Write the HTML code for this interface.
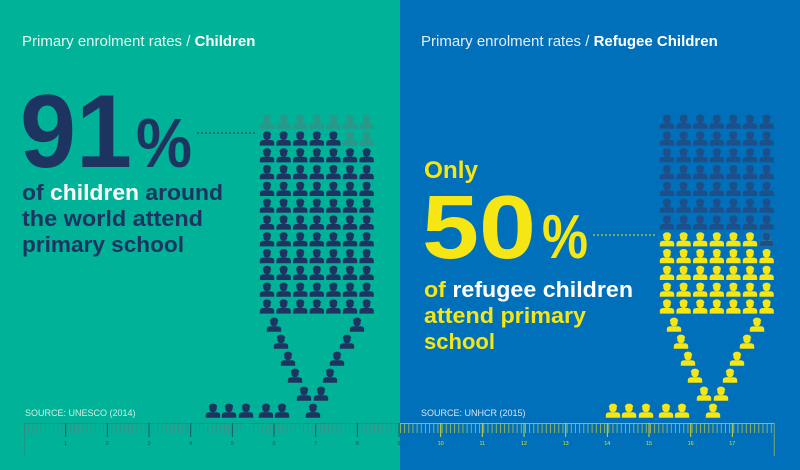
<!DOCTYPE html>
<html><head><meta charset="utf-8"><style>html,body{margin:0;padding:0;}svg{display:block}</style></head>
<body>
<svg width="800" height="470" viewBox="0 0 800 470" xmlns="http://www.w3.org/2000/svg" xmlns:xlink="http://www.w3.org/1999/xlink" font-family="Liberation Sans, sans-serif">
<defs>
<g id="p">
<circle cx="0" cy="4.6" r="3.7"/>
<path d="M-4.2,3.4 Q-4,-0.4 0,-0.4 Q4,-0.4 4.2,3.4 Z"/>
<path d="M-7.2,13.8 L-7.2,11.2 Q-7.2,8.2 -3.6,8.2 L3.6,8.2 Q7.2,8.2 7.2,11.2 L7.2,13.8 Z"/>
</g>
<g id="r">
<use xlink:href="#p" x="0"/><use xlink:href="#p" x="16.6"/><use xlink:href="#p" x="33.2"/><use xlink:href="#p" x="49.8"/><use xlink:href="#p" x="66.4"/><use xlink:href="#p" x="83"/><use xlink:href="#p" x="99.6"/>
</g>
<g id="v">
<use xlink:href="#p" x="274" y="318"/><use xlink:href="#p" x="357" y="318"/>
<use xlink:href="#p" x="281" y="335"/><use xlink:href="#p" x="347" y="335"/>
<use xlink:href="#p" x="288" y="352"/><use xlink:href="#p" x="337" y="352"/>
<use xlink:href="#p" x="295" y="369"/><use xlink:href="#p" x="330" y="369"/>
<use xlink:href="#p" x="304" y="387"/><use xlink:href="#p" x="321" y="387"/>
<use xlink:href="#p" x="213" y="404"/><use xlink:href="#p" x="229" y="404"/><use xlink:href="#p" x="246" y="404"/>
<use xlink:href="#p" x="266" y="404"/><use xlink:href="#p" x="282" y="404"/><use xlink:href="#p" x="313" y="404"/>
</g>
</defs>
<rect x="0" y="0" width="400" height="470" fill="#00b398"/>
<rect x="400" y="0" width="400" height="470" fill="#0070bb"/>

<text x="22" y="46" font-size="15" fill="#e6f7f2">Primary enrolment rates / <tspan font-weight="bold" fill="#ffffff">Children</tspan></text>
<text x="20" y="167" font-size="104" font-weight="bold" fill="#1d3461" textLength="112" lengthAdjust="spacingAndGlyphs">91</text>
<text x="136" y="167" font-size="70" font-weight="bold" fill="#1d3461" textLength="56" lengthAdjust="spacingAndGlyphs">%</text>
<line x1="197" y1="133" x2="256" y2="133" stroke="#1d3461" stroke-width="1" stroke-dasharray="2,2"/>
<g font-size="22" font-weight="bold" fill="#1d3461">
<text x="22" y="200" textLength="201" lengthAdjust="spacingAndGlyphs">of <tspan fill="#ffffff">children</tspan> around</text>
<text x="22" y="226" textLength="181" lengthAdjust="spacingAndGlyphs">the world attend</text>
<text x="22" y="252" textLength="162" lengthAdjust="spacingAndGlyphs">primary school</text>
</g>

<g fill="#1d3461">
<use xlink:href="#r" x="267" y="115" fill="#2a9888"/>
<use xlink:href="#r" x="267" y="131.8" fill="#2a9888"/>
<use xlink:href="#p" x="267" y="131.8"/><use xlink:href="#p" x="283.6" y="131.8"/><use xlink:href="#p" x="300.2" y="131.8"/><use xlink:href="#p" x="316.8" y="131.8"/><use xlink:href="#p" x="333.4" y="131.8"/>
<use xlink:href="#r" x="267" y="148.6"/>
<use xlink:href="#r" x="267" y="165.4"/>
<use xlink:href="#r" x="267" y="182.2"/>
<use xlink:href="#r" x="267" y="199"/>
<use xlink:href="#r" x="267" y="215.8"/>
<use xlink:href="#r" x="267" y="232.6"/>
<use xlink:href="#r" x="267" y="249.4"/>
<use xlink:href="#r" x="267" y="266.2"/>
<use xlink:href="#r" x="267" y="283"/>
<use xlink:href="#r" x="267" y="299.8"/>
<use xlink:href="#v" x="0" y="0"/>
</g>

<text x="421" y="46" font-size="15" fill="#e3eef8">Primary enrolment rates / <tspan font-weight="bold" fill="#ffffff">Refugee Children</tspan></text>
<text x="424" y="178" font-size="24" font-weight="bold" fill="#f5e614" textLength="54" lengthAdjust="spacingAndGlyphs">Only</text>
<text x="422" y="258" font-size="90" font-weight="bold" fill="#f5e614" textLength="114" lengthAdjust="spacingAndGlyphs">50</text>
<text x="542" y="258" font-size="62" font-weight="bold" fill="#f5e614" textLength="46" lengthAdjust="spacingAndGlyphs">%</text>
<line x1="593" y1="235" x2="656" y2="235" stroke="#f5e614" stroke-width="1" stroke-dasharray="2,2"/>
<g font-size="22" font-weight="bold" fill="#f5e614">
<text x="424" y="297" textLength="209" lengthAdjust="spacingAndGlyphs">of <tspan fill="#ffffff">refugee children</tspan></text>
<text x="424" y="323" textLength="162" lengthAdjust="spacingAndGlyphs">attend primary</text>
<text x="424" y="349" textLength="71" lengthAdjust="spacingAndGlyphs">school</text>
</g>

<g fill="#1d4f8a">
<use xlink:href="#r" x="667" y="115"/>
<use xlink:href="#r" x="667" y="131.8"/>
<use xlink:href="#r" x="667" y="148.6"/>
<use xlink:href="#r" x="667" y="165.4"/>
<use xlink:href="#r" x="667" y="182.2"/>
<use xlink:href="#r" x="667" y="199"/>
<use xlink:href="#r" x="667" y="215.8"/>
</g>
<g fill="#f5e614">
<use xlink:href="#r" x="667" y="232.6"/>
<use xlink:href="#p" x="766.6" y="232.6" fill="#1d4f8a"/>
<use xlink:href="#r" x="667" y="249.4"/>
<use xlink:href="#r" x="667" y="266.2"/>
<use xlink:href="#r" x="667" y="283"/>
<use xlink:href="#r" x="667" y="299.8"/>
<use xlink:href="#v" x="400" y="0"/>
</g>

<text x="25" y="416" font-size="9" fill="#cdeee6">SOURCE: UNESCO (2014)</text>
<text x="421" y="416" font-size="9" fill="#d6e6f4">SOURCE: UNHCR (2015)</text>

<line x1="24" y1="428" x2="400" y2="428" stroke="#3a8f86" stroke-width="10" stroke-dasharray="0.9 3.2667"/>
<line x1="399.5" y1="428" x2="774.5" y2="428" stroke="#9cb85a" stroke-width="10" stroke-dasharray="0.9 3.2667" stroke-dashoffset="-0.5"/>
<line x1="24" y1="423.5" x2="400" y2="423.5" stroke="#2a8a7f" stroke-width="1"/>
<line x1="400" y1="423.5" x2="774.5" y2="423.5" stroke="#9cb85a" stroke-width="1"/>
<line x1="24.3" y1="423" x2="24.3" y2="456" stroke="#2a8a7f" stroke-width="0.8"/>
<line x1="774.2" y1="423" x2="774.2" y2="456" stroke="#9cb85a" stroke-width="0.8"/>
<g stroke="#1d4f6a" stroke-width="0.9">
<line x1="65.7" y1="423" x2="65.7" y2="437"/><line x1="107.3" y1="423" x2="107.3" y2="437"/><line x1="149" y1="423" x2="149" y2="437"/><line x1="190.7" y1="423" x2="190.7" y2="437"/><line x1="232.3" y1="423" x2="232.3" y2="437"/><line x1="274" y1="423" x2="274" y2="437"/><line x1="315.7" y1="423" x2="315.7" y2="437"/><line x1="357.3" y1="423" x2="357.3" y2="437"/><line x1="399" y1="423" x2="399" y2="437"/>
</g>
<g stroke="#e0e030" stroke-width="0.9">
<line x1="440.7" y1="423" x2="440.7" y2="437"/><line x1="482.3" y1="423" x2="482.3" y2="437"/><line x1="524" y1="423" x2="524" y2="437"/><line x1="565.7" y1="423" x2="565.7" y2="437"/><line x1="607.3" y1="423" x2="607.3" y2="437"/><line x1="649" y1="423" x2="649" y2="437"/><line x1="690.7" y1="423" x2="690.7" y2="437"/><line x1="732.3" y1="423" x2="732.3" y2="437"/>
</g>
<g font-size="5.5" text-anchor="middle" fill="#1d4f6a">
<text x="65.7" y="445">1</text><text x="107.3" y="445">2</text><text x="149" y="445">3</text><text x="190.7" y="445">4</text><text x="232.3" y="445">5</text><text x="274" y="445">6</text><text x="315.7" y="445">7</text><text x="357.3" y="445">8</text><text x="399" y="445">9</text>
</g>
<g font-size="5.5" text-anchor="middle" fill="#d8e040">
<text x="440.7" y="445">10</text><text x="482.3" y="445">11</text><text x="524" y="445">12</text><text x="565.7" y="445">13</text><text x="607.3" y="445">14</text><text x="649" y="445">15</text><text x="690.7" y="445">16</text><text x="732.3" y="445">17</text>
</g>
</svg>
</body></html>
